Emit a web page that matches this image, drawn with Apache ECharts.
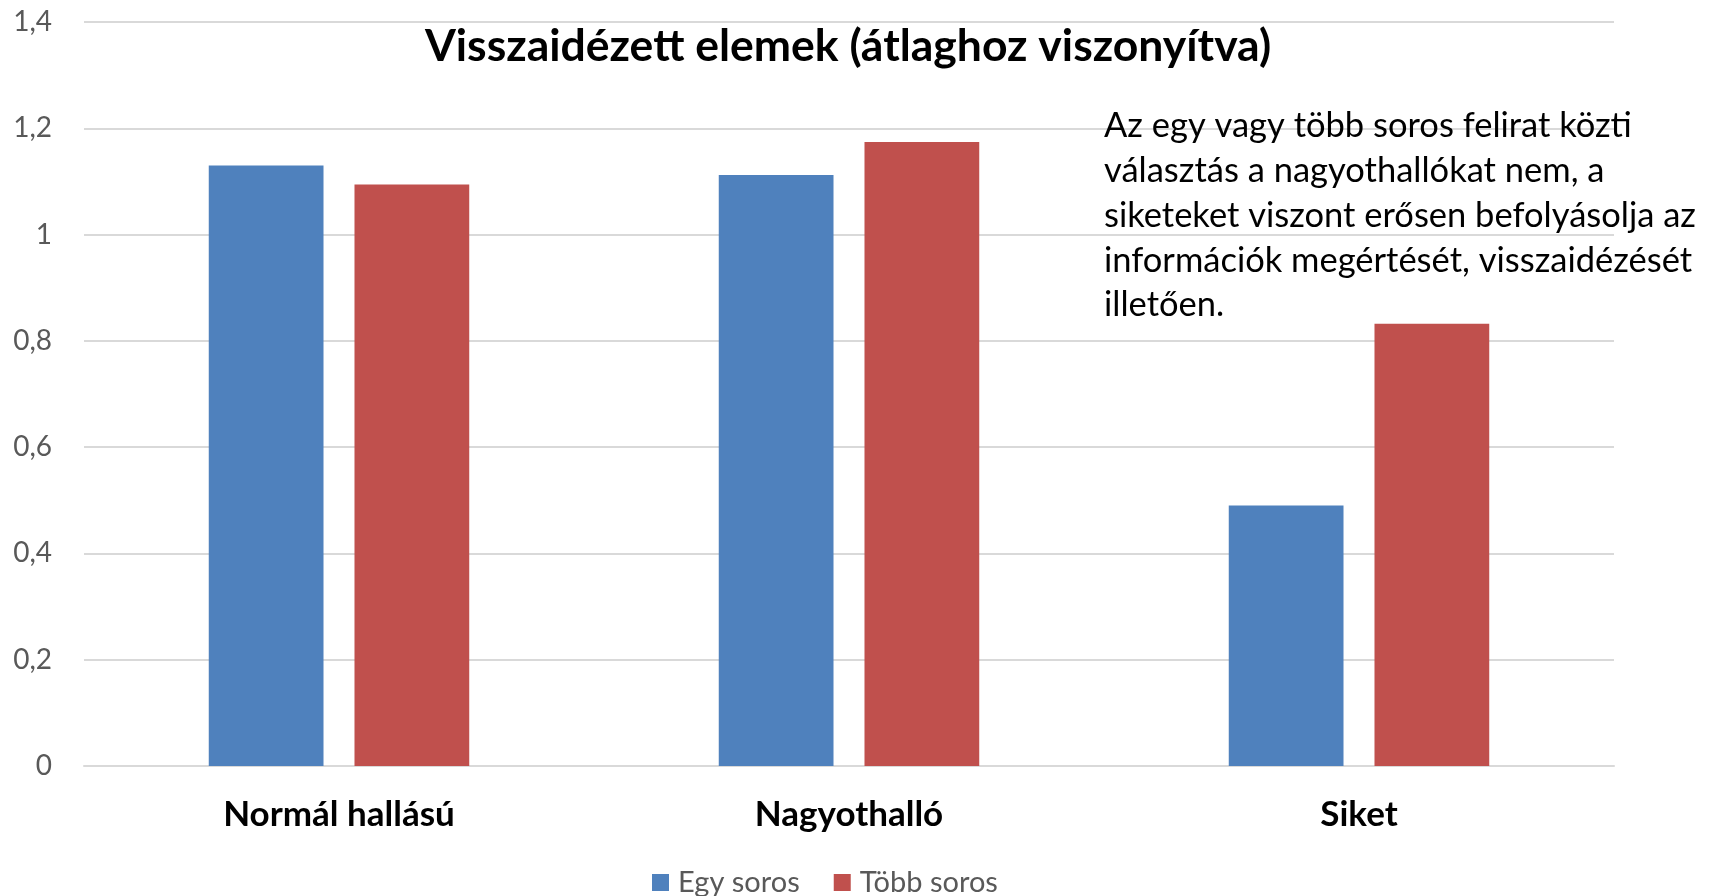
<!DOCTYPE html>
<html>
<head>
<meta charset="utf-8">
<script src="https://cdn.jsdelivr.net/npm/echarts@6/dist/echarts.min.js"></script>
<style>
  html, body { margin: 0; padding: 0; background: #fff; }
  #chart { width: 1712px; height: 896px; }
</style>
</head>
<body>
<div id="chart"></div>
<script>
// kategóriák és értékek (átlaghoz viszonyítva)
var categories = ['Normál hallású', 'Nagyothalló', 'Siket'];
var egySoros = [1.13, 1.112, 0.49];
var tobbSoros = [1.094, 1.174, 0.832];
var yTicks = [0, 0.2, 0.4, 0.6, 0.8, 1, 1.2, 1.4];
var chartTitle = 'Visszaidézett elemek (átlaghoz viszonyítva)';
var noteLines = [
  'Az egy vagy több soros felirat közti',
  'választás a nagyothallókat nem, a',
  'siketeket viszont erősen befolyásolja az',
  'információk megértését, visszaidézését',
  'illetően.'
];

var FONT = 'Lato';
var chart = echarts.init(document.getElementById('chart'));

var option = {
  backgroundColor: '#fff',
  animation: false,
  title: {
    text: chartTitle,
    left: 843,
    top: 19,
    textAlign: 'center',
    textStyle: { fontFamily: FONT, fontWeight: 'bold', fontSize: 44.5, color: '#000' }
  },
  legend: {
    data: ['Egy soros', 'Több soros'],
    left: 647,
    top: 863,
    itemWidth: 17,
    itemHeight: 17,
    itemGap: 34,
    icon: 'rect',
    textStyle: { fontFamily: FONT, fontSize: 29, color: '#595959', padding: [0, 0, 0, 4] }
  },
  grid: { left: 84, right: 98, top: 22, bottom: 130, containLabel: false },
  xAxis: {
    type: 'category',
    data: categories,
    axisTick: { show: false },
    axisLine: { lineStyle: { color: '#d9d9d9', width: 2 } },
    axisLabel: {
      margin: 31,
      fontFamily: FONT, fontWeight: 'bold', fontSize: 35, color: '#000'
    }
  },
  yAxis: {
    type: 'value',
    min: 0,
    max: 1.4,
    interval: 0.2,
    axisLine: { show: false },
    axisTick: { show: false },
    splitLine: { lineStyle: { color: '#d9d9d9', width: 2 } },
    axisLabel: {
      margin: 32,
      fontFamily: FONT, fontSize: 28, color: '#595959',
      formatter: function (v) {
        var t = yTicks.find(function (x) { return Math.abs(x - v) < 1e-9; });
        return t === undefined ? '' : String(+t.toFixed(1)).replace('.', ',');
      }
    }
  },
  series: [
    {
      name: 'Egy soros',
      type: 'bar',
      data: egySoros,
      barWidth: '22.5%',
      barGap: '27%',
      itemStyle: { color: '#4F81BD' }
    },
    {
      name: 'Több soros',
      type: 'bar',
      data: tobbSoros,
      barWidth: '22.5%',
      barGap: '27%',
      itemStyle: { color: '#C0504D' }
    }
  ],
  graphic: [
    {
      type: 'text',
      left: 1104,
      top: 104,
      z: 100,
      style: {
        text: noteLines.join('\n'),
        fontFamily: FONT,
        fontSize: 34.5,
        lineHeight: 44.7,
        fill: '#000'
      }
    }
  ]
};

chart.setOption(option);
</script>
</body>
</html>
